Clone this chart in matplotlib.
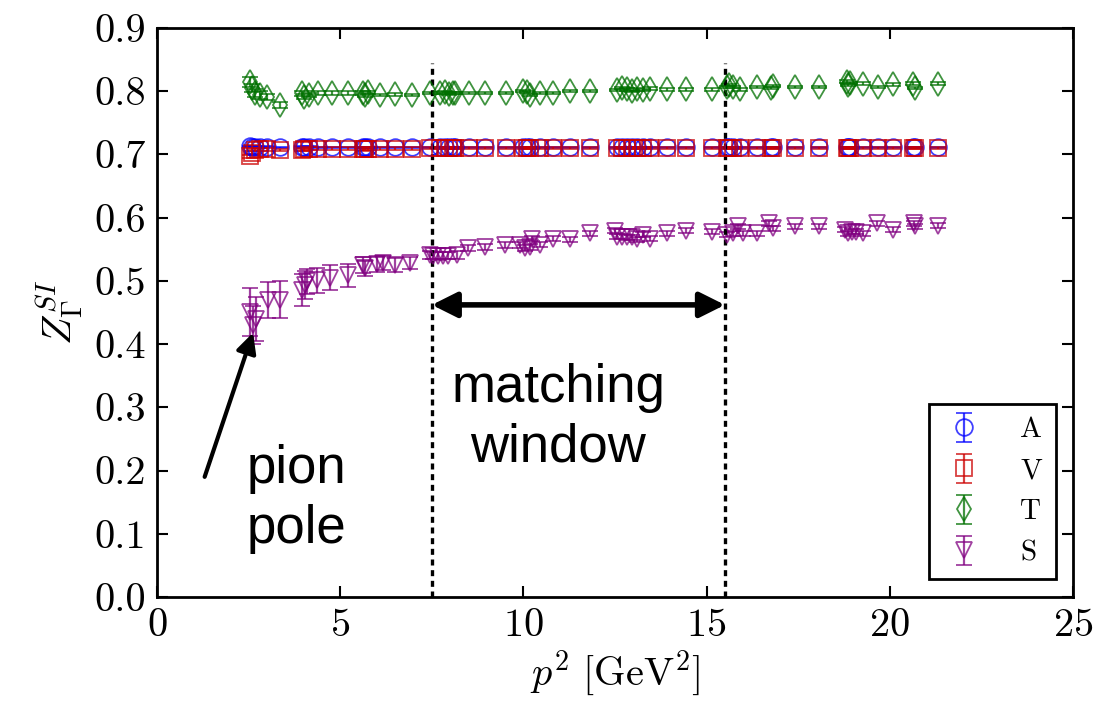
import matplotlib
matplotlib.use("Agg")
import matplotlib.pyplot as plt
import numpy as np

plt.rcParams.update({
    "font.family": "serif",
    "font.serif": ["cmr10"],
    "mathtext.fontset": "cm",
    "axes.formatter.use_mathtext": True,
    "axes.unicode_minus": False,
    "xtick.direction": "in",
    "ytick.direction": "in",
    "xtick.top": True,
    "ytick.right": True,
    "axes.linewidth": 2.0,
})

# ---- data -----------------------------------------------------------
S_x = [2.55, 2.62, 2.70, 3.04, 3.36, 3.95, 4.04, 4.10, 4.36, 4.72, 5.21, 5.63,
       5.68, 6.00, 6.18, 6.50, 6.90, 7.45, 7.54, 7.68, 7.81, 7.95, 8.18, 8.50,
       8.95, 9.50, 9.91, 10.04, 10.18, 10.23, 10.45, 10.82, 11.27, 11.83, 12.50,
       12.55, 12.68, 12.82, 12.95, 13.09, 13.27, 13.46, 13.91, 14.45, 15.14,
       15.55, 15.73, 15.86, 16.00, 16.37, 16.69, 16.82, 17.41, 18.08, 18.78,
       18.87, 18.96, 19.09, 19.27, 19.64, 20.09, 20.66, 20.70, 21.32]
S_y = [0.451, 0.430, 0.440, 0.470, 0.470, 0.486, 0.493, 0.499, 0.501, 0.505, 0.509, 0.525,
       0.520, 0.526, 0.528, 0.525, 0.528, 0.541, 0.540, 0.539, 0.540, 0.540, 0.541, 0.552,
       0.554, 0.557, 0.557, 0.552, 0.554, 0.567, 0.557, 0.567, 0.566, 0.575, 0.579,
       0.570, 0.570, 0.569, 0.569, 0.566, 0.573, 0.567, 0.575, 0.579, 0.578,
       0.573, 0.575, 0.586, 0.575, 0.575, 0.591, 0.583, 0.586, 0.586, 0.581,
       0.575, 0.578, 0.578, 0.575, 0.591, 0.581, 0.591, 0.586, 0.587]
S_err = [0.038, 0.030, 0.035, 0.028, 0.029, 0.025, 0.022, 0.020, 0.020, 0.020, 0.018, 0.012,
         0.012, 0.012, 0.011, 0.011, 0.010, 0.007, 0.006, 0.006, 0.006, 0.006, 0.006, 0.005,
         0.005, 0.005, 0.005, 0.005, 0.005, 0.004, 0.004, 0.004, 0.004, 0.004, 0.004,
         0.004, 0.004, 0.004, 0.004, 0.004, 0.004, 0.004, 0.004, 0.004, 0.004,
         0.004, 0.004, 0.004, 0.004, 0.004, 0.004, 0.004, 0.004, 0.004, 0.004,
         0.004, 0.004, 0.004, 0.004, 0.004, 0.004, 0.004, 0.004, 0.004]

T_x = [2.54, 2.58, 2.68, 2.81, 3.00, 3.36, 3.95, 4.01, 4.16, 4.40, 4.77, 5.22,
       5.63, 5.68, 5.75, 6.09, 6.50, 6.95, 7.45, 7.72, 7.85, 7.97, 8.08, 8.13,
       8.52, 8.95, 9.53, 10.00, 10.09, 10.18, 10.45, 10.82, 11.27, 11.82, 12.55,
       12.68, 12.82, 12.95, 13.09, 13.27, 13.46, 13.91, 14.45, 15.14, 15.55,
       15.60, 15.73, 15.91, 16.37, 16.77, 16.82, 17.41, 18.08, 18.82, 18.85,
       18.90, 19.27, 19.69, 20.10, 20.64, 20.69, 21.32]
T_y = [0.815, 0.805, 0.797, 0.794, 0.791, 0.778, 0.797, 0.791, 0.794, 0.797, 0.797, 0.797,
       0.797, 0.794, 0.798, 0.794, 0.795, 0.794, 0.797, 0.797, 0.798, 0.796, 0.797, 0.797,
       0.797, 0.797, 0.797, 0.800, 0.799, 0.794, 0.797, 0.797, 0.800, 0.800, 0.802,
       0.805, 0.803, 0.800, 0.803, 0.802, 0.804, 0.803, 0.803, 0.803, 0.807,
       0.810, 0.807, 0.803, 0.807, 0.805, 0.808, 0.807, 0.807, 0.815, 0.810,
       0.813, 0.812, 0.807, 0.811, 0.812, 0.805, 0.812]
T_err = [0.008, 0.007, 0.006, 0.006, 0.005, 0.005, 0.004, 0.004, 0.003, 0.003, 0.003, 0.003,
         0.003, 0.003, 0.003, 0.002, 0.002, 0.002, 0.002, 0.002, 0.002, 0.002, 0.002, 0.002,
         0.002, 0.002, 0.002, 0.002, 0.002, 0.002, 0.002, 0.002, 0.002, 0.002, 0.002,
         0.002, 0.002, 0.002, 0.002, 0.002, 0.002, 0.002, 0.002, 0.002, 0.002,
         0.002, 0.002, 0.002, 0.002, 0.002, 0.002, 0.002, 0.002, 0.002, 0.002,
         0.002, 0.002, 0.002, 0.002, 0.002, 0.002, 0.002]

A_x = T_x
A_y = [0.713, 0.712, 0.712, 0.711, 0.712, 0.711, 0.712, 0.711, 0.712, 0.711, 0.711, 0.711,
       0.711, 0.711, 0.711, 0.711, 0.711, 0.711, 0.711, 0.711, 0.711, 0.711, 0.711, 0.711,
       0.711, 0.711, 0.711, 0.711, 0.711, 0.711, 0.711, 0.711, 0.711, 0.711, 0.711,
       0.711, 0.711, 0.711, 0.711, 0.711, 0.711, 0.711, 0.711, 0.711, 0.711,
       0.711, 0.711, 0.711, 0.711, 0.711, 0.711, 0.711, 0.711, 0.711, 0.711,
       0.711, 0.711, 0.711, 0.711, 0.711, 0.711, 0.711]
A_err = [0.001] * len(A_x)

V_x = T_x
V_y = [0.697, 0.703, 0.707, 0.708, 0.708, 0.707, 0.707, 0.708, 0.709, 0.709, 0.709, 0.709,
       0.708, 0.709, 0.709, 0.709, 0.709, 0.709, 0.710, 0.710, 0.710, 0.710, 0.710, 0.710,
       0.710, 0.710, 0.710, 0.710, 0.710, 0.710, 0.710, 0.710, 0.710, 0.710, 0.710,
       0.710, 0.710, 0.710, 0.710, 0.710, 0.710, 0.710, 0.710, 0.710, 0.710,
       0.710, 0.710, 0.710, 0.710, 0.710, 0.710, 0.710, 0.710, 0.710, 0.710,
       0.710, 0.710, 0.710, 0.710, 0.710, 0.710, 0.710]
V_err = [0.002] * len(V_x)

window_lo, window_hi = 7.5, 15.5

# ---- figure ---------------------------------------------------------
fig = plt.figure(figsize=(11.16, 7.01), dpi=100)
ax = fig.add_axes([0.1407, 0.1484, 0.8208, 0.8117])

series = [
    ("A", A_x, A_y, A_err, "o", "#0000ff"),
    ("V", V_x, V_y, V_err, "s", "#cc0000"),
    ("T", T_x, T_y, T_err, "d", "#007000"),
    ("S", S_x, S_y, S_err, "v", "#800080"),
]
for lab, x, y, e, m, c in series:
    ax.errorbar(x, y, yerr=e, fmt=m, mfc="none", mec=c, ecolor=c, color=c,
                ms=12, mew=1.3, capsize=6, capthick=1.6, elinewidth=1.6,
                alpha=0.75, label=lab)

ax.vlines([window_lo, window_hi], 0, 0.845, colors="k",
          linestyles=(0, (1.8, 1.4)), linewidth=2.4)
ax.annotate("", xy=(window_lo, 0.462), xytext=(window_hi, 0.462),
            arrowprops=dict(arrowstyle="<|-|>", lw=4, color="k",
                            mutation_scale=38, shrinkA=0, shrinkB=0))
ax.annotate("", xy=(2.62, 0.418), xytext=(1.3, 0.19),
            arrowprops=dict(arrowstyle="-|>", lw=3, color="k",
                            mutation_scale=30, shrinkA=0, shrinkB=0))

ax.text(10.95, 0.283, "matching\nwindow", ha="center", va="center",
        family="Liberation Sans", fontsize=38, linespacing=1.25)
ax.text(2.45, 0.155, "pion\npole", ha="left", va="center",
        family="Liberation Sans", fontsize=38, linespacing=1.25)

ax.set_xlim(0, 25)
ax.set_ylim(0, 0.9)
ax.set_xticks([0, 5, 10, 15, 20, 25])
ax.set_yticks(np.arange(0, 0.91, 0.1))
ax.set_yticklabels([f"{v:.1f}" for v in np.arange(0, 0.91, 0.1)])
ax.tick_params(labelsize=29, length=8, width=1.5, pad=8)

ax.set_xlabel(r"$p^2\ [\mathrm{GeV}^2]$", fontsize=29, labelpad=3)
ax.set_ylabel(r"$Z_\Gamma^{SI}$", fontsize=29, labelpad=6)

leg = ax.legend(loc="lower right", numpoints=1, fontsize=21, fancybox=False,
                edgecolor="k", framealpha=1, labelspacing=0.5,
                handlelength=1.5, handletextpad=1.2, borderpad=0.45,
                borderaxespad=0.6)
leg.get_frame().set_linewidth(2)

fig.savefig("out.png", dpi=100)
